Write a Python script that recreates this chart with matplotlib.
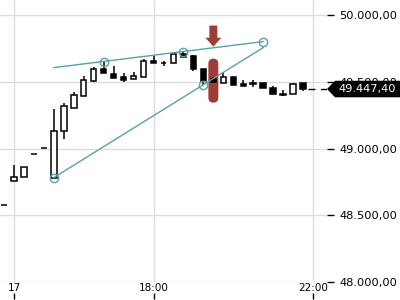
import matplotlib
matplotlib.use("Agg")
import matplotlib.pyplot as plt
import matplotlib.transforms as mtransforms
from matplotlib.patches import Rectangle, FancyBboxPatch, FancyArrow, Polygon
from matplotlib.ticker import FuncFormatter

# candles (15 min)
opens = [48580, 48760, 48790, 48963, 49008, 48783, 49135, 49308, 49398, 49510,
         49600, 49563, 49540, 49525, 49540, 49660, 49645, 49645, 49713, 49698,
         49600, 49525, 49495, 49540, 49488, 49495, 49495, 49458, 49413, 49413, 49495]
highs = [48580, 48880, 48865, 48963, 49008, 49300, 49345, 49428, 49548, 49615,
         49653, 49623, 49570, 49578, 49675, 49698, 49660, 49713, 49735, 49705,
         49600, 49540, 49570, 49540, 49518, 49518, 49495, 49473, 49443, 49495, 49495]
lows = [48580, 48760, 48790, 48963, 49008, 48783, 49075, 49308, 49398, 49503,
        49570, 49533, 49503, 49525, 49540, 49645, 49623, 49645, 49690, 49585,
        49480, 49495, 49495, 49480, 49473, 49465, 49458, 49413, 49398, 49413, 49435]
closes = [48580, 48790, 48865, 48963, 49008, 49135, 49323, 49405, 49518, 49600,
          49570, 49533, 49518, 49548, 49660, 49645, 49645, 49713, 49690, 49600,
          49510, 49503, 49540, 49480, 49473, 49488, 49458, 49413, 49405, 49488, 49447.4]
last_price = 49447.40

tick_pos = [1, 15, 31]
tick_labels = ["17", "18:00", "22:00"]
price_ticks = [48000, 48500, 49000, 49500, 50000]

# triangle drawing (candle index, price)
upper_x = [5, 26]
upper_y = [49608, 49803]
lower_x = [5, 26]
lower_y = [48783, 49758]
pivot_x = [5, 10, 18, 20, 26]
pivot_y = [48783, 49653, 49728, 49479, 49803]

# signal marker
marker_x = 21
marker_low, marker_high = 49345, 49675
arrow_top, arrow_bottom = 49923, 49765

teal = "#5aa0a6"
red = "#9f3c37"

fig = plt.figure(figsize=(4, 3), dpi=100)
ax = fig.add_axes([0, 18 / 300, 327 / 400, 282 / 300])
ax.set_xlim(-0.4, 32.4)
ax.set_ylim(48000, 50115)

# candles
w = 0.55
for i, (o, h, l, c) in enumerate(zip(opens, highs, lows, closes)):
    ax.vlines(i, l, h, color="black", lw=1.1, zorder=3)
    up = c > o
    ax.add_patch(Rectangle((i - w / 2, min(o, c)), w, abs(c - o),
                           facecolor="white" if up else "black",
                           edgecolor="black", lw=1.1, zorder=4))

# triangle pattern
ax.plot(upper_x, upper_y, color=teal, lw=1.0, zorder=5)
ax.plot(lower_x, lower_y, color=teal, lw=1.0, zorder=5)
ax.plot(pivot_x, pivot_y, ls="none", marker="o", ms=6, mfc="none",
        mec=teal, mew=1.0, zorder=6)

# red signal bar + arrow
aspect = (7.5) / (1 / 9.967)
ax.add_patch(FancyBboxPatch((marker_x - 0.5, marker_low), 1.0, marker_high - marker_low,
                            boxstyle="round,pad=0,rounding_size=0.5",
                            mutation_aspect=aspect, facecolor=red,
                            edgecolor="none", zorder=2))
ax.add_patch(FancyArrow(marker_x, arrow_top, 0, arrow_bottom - arrow_top,
                        width=0.8, head_width=1.6, head_length=67,
                        length_includes_head=True, color=red, lw=0, zorder=6))

# last price line and tag
ax.hlines(last_price, len(closes) - 1 + 0.45, 32.4, colors="black",
          linestyles=(0, (5, 4)), lw=1, zorder=3)
trans = mtransforms.blended_transform_factory(ax.transAxes, ax.transData)
hh = 62
ax.add_patch(Polygon([(1.0, last_price), (1 + 8 / 327, last_price + hh),
                      (1.23, last_price + hh), (1.23, last_price - hh),
                      (1 + 8 / 327, last_price - hh)],
                     closed=True, transform=trans, facecolor="black",
                     edgecolor="none", clip_on=False, zorder=10))
ax.text(1 + 11 / 327, last_price, "49.447,40", transform=trans, color="white",
        va="center", ha="left", fontsize=8.2, zorder=11, clip_on=False)

# axes styling
def de_fmt(v, pos):
    return f"{v:,.2f}".replace(",", "X").replace(".", ",").replace("X", ".")

ax.yaxis.tick_right()
ax.set_yticks(price_ticks)
ax.yaxis.set_major_formatter(FuncFormatter(de_fmt))
ax.tick_params(axis="y", length=5, width=1, pad=4, labelsize=8.2, colors="black")
ax.set_xticks(tick_pos)
ax.set_xticklabels(tick_labels)
ax.tick_params(axis="x", length=0, pad=1, labelsize=7.5)
for s in ax.spines.values():
    s.set_visible(False)
ax.grid(color="#dcdcdc", lw=1)
ax.set_axisbelow(True)

sec = ax.secondary_xaxis(-0.039)
sec.set_xticks(tick_pos)
sec.set_xticklabels([])
sec.tick_params(length=4, width=1)
sec.spines["bottom"].set_visible(False)

fig.savefig("out.png", dpi=100)
